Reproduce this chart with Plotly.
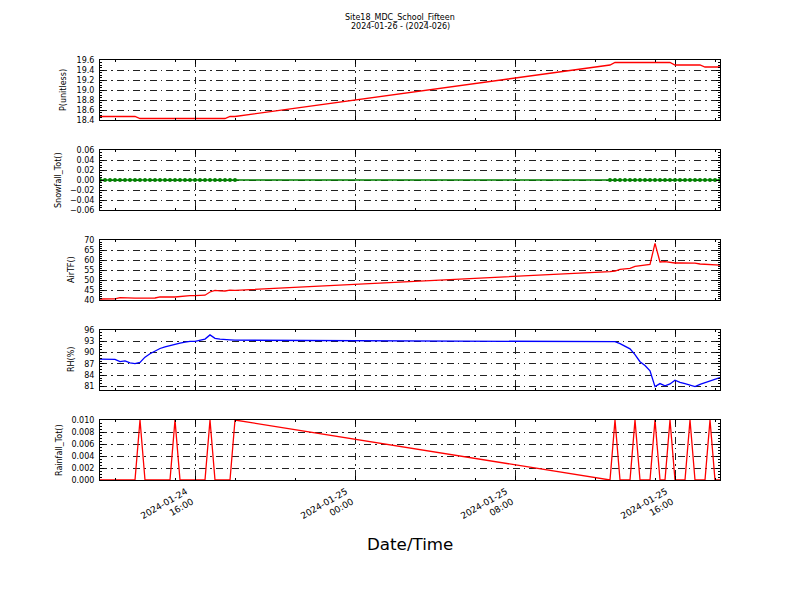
import plotly.graph_objects as go
import pandas as pd

# ---------------- data ----------------
title_lines = ["Site18_MDC_School_Fifteen", "2024-01-26 - (2024-026)"]
x_title = "Date/Time"
y_titles = ["P(unitless)", "Snowfall_Tot()", "AirTF()", "RH(%)", "Rainfall_Tot()"]

seg1_start, seg1_n = "2024-01-24 11:15", 28
seg2_start, seg2_n = "2024-01-25 12:45", 23
times = list(pd.date_range(seg1_start, periods=seg1_n, freq="15min")) + \
        list(pd.date_range(seg2_start, periods=seg2_n, freq="15min"))

pressure = [18.47, 18.47, 18.47, 18.47, 18.47, 18.47, 18.47, 18.47,
            18.43, 18.43, 18.43, 18.43, 18.43, 18.43, 18.43, 18.43, 18.43,
            18.43, 18.43, 18.43, 18.43, 18.43, 18.43, 18.43, 18.43, 18.43,
            18.47, 18.47,
            19.50, 19.55, 19.55, 19.55, 19.55, 19.55, 19.55, 19.55, 19.55,
            19.55, 19.55, 19.55, 19.55, 19.50, 19.50, 19.50, 19.50, 19.50,
            19.50, 19.46, 19.46, 19.46, 19.46]

snowfall = [0.0, 0.0, 0.0, 0.0, 0.0, 0.0, 0.0, 0.0, 0.0, 0.0, 0.0, 0.0, 0.0, 0.0,
            0.0, 0.0, 0.0, 0.0, 0.0, 0.0, 0.0, 0.0, 0.0, 0.0, 0.0, 0.0, 0.0, 0.0,
            0.0, 0.0, 0.0, 0.0, 0.0, 0.0, 0.0, 0.0, 0.0, 0.0, 0.0, 0.0, 0.0, 0.0,
            0.0, 0.0, 0.0, 0.0, 0.0, 0.0, 0.0, 0.0, 0.0]

air_temp = [40.5, 40.5, 40.5, 40.6, 41.2, 41.0, 41.0, 40.9, 40.9, 40.9, 41.0, 41.0,
            41.6, 41.7, 41.5, 41.5, 41.8, 42.0, 42.2, 42.2, 42.2, 42.4, 44.0, 44.8,
            44.6, 44.5, 44.9, 44.8,
            54.2, 54.5, 55.3, 55.5, 55.8, 56.8, 57.2, 57.5, 57.8, 68.3, 59.0, 59.2,
            58.8, 58.5, 58.5, 58.5, 58.6, 58.4, 58.0, 57.8, 57.7, 57.6, 57.4]

rel_hum = [88.3, 88.3, 88.3, 88.2, 87.6, 87.8, 87.3, 87.1, 87.4, 88.8, 89.7, 90.5,
           91.1, 91.5, 91.9, 92.2, 92.5, 92.8, 93.0, 93.0, 93.3, 93.6, 94.7, 93.8,
           93.6, 93.6, 93.4, 93.3,
           93.1, 92.9, 92.4, 91.6, 91.0, 89.5, 87.6, 86.6, 85.2, 81.0, 81.8, 81.2,
           81.7, 82.7, 82.1, 81.8, 81.5, 81.0, 81.6, 82.0, 82.4, 82.8, 83.4]

rainfall = [0, 0, 0, 0, 0, 0, 0, 0, 0.01, 0, 0, 0, 0, 0, 0, 0.01, 0, 0, 0, 0,
            0, 0, 0.01, 0, 0, 0, 0, 0.01,
            0, 0.01, 0, 0, 0, 0.01, 0, 0, 0, 0.01, 0, 0, 0.01, 0, 0, 0, 0.01, 0,
            0, 0, 0.01, 0, 0]

x_tick_vals = ["2024-01-24 16:00", "2024-01-25 00:00", "2024-01-25 08:00", "2024-01-25 16:00"]
x_tick_text = ["2024-01-24<br>16:00", "2024-01-25<br>00:00", "2024-01-25<br>08:00", "2024-01-25<br>16:00"]

series = [pressure, snowfall, air_temp, rel_hum, rainfall]
colors = ["#ff0000", "#008000", "#ff0000", "#0000ff", "#ff0000"]
y_ranges = [[18.4, 19.6], [-0.06, 0.06], [40, 70], [80.1, 96], [0, 0.01]]
y_dticks = [0.2, 0.02, 5, 3, 0.002]
y_minor = [0.05, 0.005, 1, 0.75, 0.0005]
y_formats = [".1f", ".2f", "d", "d", ".3f"]

# ---------------- layout ----------------
W, H = 800, 600
OFF = 8  # page body margin offset
left, right = 100 - OFF, 720 - OFF
panel_tops = [60 - OFF, 150 - OFF, 240 - OFF, 330 - OFF, 420 - OFF]
panel_h = 60
ytitle_x = [63 - OFF, 59 - OFF, 71 - OFF, 71 - OFF, 59 - OFF]
FONT = "DejaVu Sans"
griddash = "7px,4px,1.5px,4px"

fig = go.Figure()
layout = dict(
    width=W, height=H, margin=dict(l=0, r=0, t=0, b=0),
    paper_bgcolor="white", plot_bgcolor="white", showlegend=False,
    font=dict(family=FONT, size=8, color="black"),
)

x_range = [times[0], times[-1]]
annotations = []
for i in range(5):
    n = i + 1
    xa = "x" if n == 1 else f"x{n}"
    ya = "y" if n == 1 else f"y{n}"
    is_snow = i == 1
    fig.add_trace(go.Scatter(
        x=times, y=series[i], xaxis=xa, yaxis=ya,
        mode="lines+markers" if is_snow else "lines",
        line=dict(color=colors[i], width=1.3),
        marker=dict(color=colors[i], size=4, symbol="circle") if is_snow else None,
    ))
    top = panel_tops[i]
    ydom = [1 - (top + panel_h) / H, 1 - top / H]
    layout["xaxis" if n == 1 else f"xaxis{n}"] = dict(
        domain=[left / W, right / W], anchor=ya, range=x_range, type="date",
        tickmode="array", tickvals=x_tick_vals, ticktext=x_tick_text,
        showticklabels=(n == 5), tickangle=-30,
        ticklabelshift=-9, ticklabelstandoff=2,
        tickfont=dict(family=FONT, size=9),
        ticks="inside", ticklen=4, tickcolor="black",
        minor=dict(ticks="inside", ticklen=2, tickcolor="black",
                   tick0="2024-01-24 00:00", dtick=3 * 3600000, showgrid=False),
        showline=True, linecolor="black", linewidth=1, mirror="allticks",
        showgrid=True, gridcolor="#222222", gridwidth=0.5, griddash=griddash,
        zeroline=False, automargin=False, fixedrange=True,
    )
    layout["yaxis" if n == 1 else f"yaxis{n}"] = dict(
        domain=ydom, anchor=xa, range=y_ranges[i],
        tick0=0, dtick=y_dticks[i], tickformat=y_formats[i],
        tickfont=dict(family=FONT, size=8), ticklabelstandoff=3,
        ticks="inside", ticklen=4, tickcolor="black",
        minor=dict(ticks="inside", ticklen=2, tickcolor="black",
                   dtick=y_minor[i], showgrid=False),
        showline=True, linecolor="black", linewidth=1, mirror="allticks",
        showgrid=True, gridcolor="#222222", gridwidth=0.5, griddash=griddash,
        zeroline=False, automargin=False, fixedrange=True,
    )
    annotations.append(dict(
        text=y_titles[i], xref="paper", yref="paper",
        x=ytitle_x[i] / W, y=1 - (top + panel_h / 2) / H,
        textangle=-90, showarrow=False, xanchor="center", yanchor="middle",
        font=dict(family=FONT, size=8),
    ))

annotations.append(dict(text=title_lines[0], xref="paper", yref="paper",
                        x=(400 - OFF) / W, y=1 - (17 - OFF) / H, showarrow=False,
                        xanchor="center", yanchor="middle",
                        font=dict(family=FONT, size=8)))
annotations.append(dict(text=title_lines[1], xref="paper", yref="paper",
                        x=(400 - OFF) / W, y=1 - (26 - OFF) / H, showarrow=False,
                        xanchor="center", yanchor="middle",
                        font=dict(family=FONT, size=8)))
annotations.append(dict(text=x_title, xref="paper", yref="paper",
                        x=(410 - OFF) / W, y=1 - (544 - OFF) / H, showarrow=False,
                        xanchor="center", yanchor="middle",
                        font=dict(family=FONT, size=16.7)))
layout["annotations"] = annotations
fig.update_layout(**layout)
fig.write_html("out.html")
